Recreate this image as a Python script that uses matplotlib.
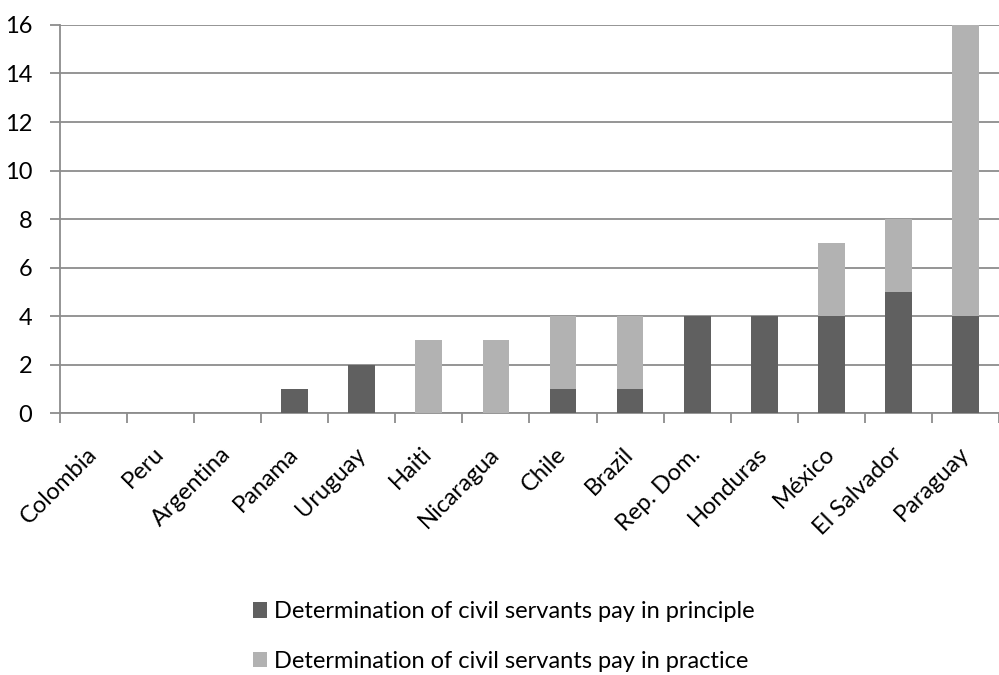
import matplotlib
matplotlib.use("Agg")
import matplotlib.pyplot as plt
import numpy as np

plt.rcParams['font.family'] = ['Lato', 'DejaVu Sans']

countries = ["Colombia", "Peru", "Argentina", "Panama", "Uruguay", "Haiti", "Nicaragua",
             "Chile", "Brazil", "Rep. Dom.", "Honduras", "México", "El Salvador", "Paraguay"]
in_principle = [0, 0, 0, 1, 2, 0, 0, 1, 1, 4, 4, 4, 5, 4]
in_practice = [0, 0, 0, 0, 0, 3, 3, 3, 3, 0, 0, 3, 3, 12]

dark = "#606060"
light = "#b2b2b2"
grid = "#8c8c8c"
fs = 17

fig = plt.figure(figsize=(9.99, 6.75), dpi=100)
ax = fig.add_axes([0.06, 0.388, 0.94, 0.575])

x = np.arange(len(countries))
ax.bar(x, in_principle, width=0.4, color=dark, zorder=3,
       label="Determination of civil servants pay in principle")
ax.bar(x, in_practice, width=0.4, bottom=in_principle, color=light, zorder=3,
       label="Determination of civil servants pay in practice")

ax.set_xlim(-0.5, len(countries) - 0.5)
ax.set_ylim(0, 16)
ax.set_yticks(range(0, 17, 2))
ax.yaxis.grid(True, color=grid, linewidth=1.3, zorder=0)

for s in ["top", "right"]:
    ax.spines[s].set_visible(False)
for s in ["left", "bottom"]:
    ax.spines[s].set_color(grid)
    ax.spines[s].set_linewidth(1.3)

# category labels at bar centres, tick marks at category boundaries
ax.set_xticks(x)
ax.set_xticklabels(countries, rotation=45, ha="right", va="center", rotation_mode="anchor")
ax.tick_params(axis="x", which="major", length=0, pad=27, labelsize=fs)
ax.set_xticks(np.arange(-0.5, len(countries), 1), minor=True)
ax.tick_params(axis="x", which="minor", length=7, width=1.3, color=grid)
ax.tick_params(axis="y", length=7, width=1.3, color=grid, labelsize=fs, pad=13)

fig.legend(loc="center left", bbox_to_anchor=(0.241, 0.057), frameon=False,
           fontsize=fs, handlelength=0.62, handleheight=0.62, handletextpad=0.3,
           labelspacing=1.2, borderpad=0)

fig.savefig("out.png", dpi=100)
